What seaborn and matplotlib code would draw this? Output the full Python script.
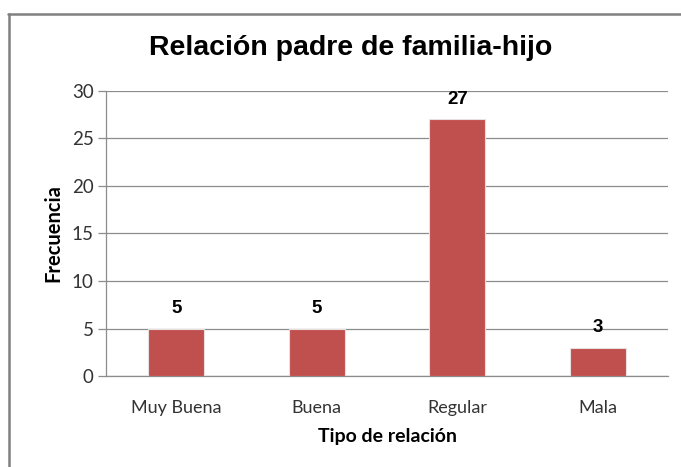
import matplotlib
matplotlib.use("Agg")
import matplotlib.pyplot as plt
import seaborn as sns
import pandas as pd
from matplotlib.lines import Line2D

# datos
categorias = ["Muy Buena", "Buena", "Regular", "Mala"]
frecuencias = [5, 5, 27, 3]
yticks = [0, 5, 10, 15, 20, 25, 30]

df = pd.DataFrame({"Tipo": categorias, "Frecuencia": frecuencias})

sns.set_style("white")
plt.rcParams["font.family"] = ["Lato", "DejaVu Sans"]

fig = plt.figure(figsize=(6.81, 4.67), dpi=100)
ax = fig.add_axes([106 / 681, 1 - 376 / 467, 562 / 681, 285 / 467])

sns.barplot(data=df, x="Tipo", y="Frecuencia", color="#C0504D", width=0.4,
            edgecolor="#e8e0e0", linewidth=0.8, ax=ax, zorder=3, saturation=1)

ax.set_ylim(0, 30)
ax.set_xlim(-0.5, 3.5)
ax.set_yticks(yticks)
ax.yaxis.grid(True, color="#8c8c8c", linewidth=0.9, zorder=0)
ax.set_axisbelow(True)

for s in ["top", "right"]:
    ax.spines[s].set_visible(False)
for s in ["left", "bottom"]:
    ax.spines[s].set_color("#8c8c8c")
    ax.spines[s].set_linewidth(0.9)

# ticks de categorias entre barras
ax.set_xticks([-0.5, 0.5, 1.5, 2.5, 3.5], minor=True)
ax.tick_params(axis="x", which="minor", length=6, color="#8c8c8c", width=0.9)
ax.tick_params(axis="x", which="major", length=0, labelsize=13, colors="#333333", pad=17)
ax.tick_params(axis="y", length=6, color="#8c8c8c", width=0.9, labelsize=13.5,
               colors="#333333", direction="out", left=True, pad=3)

for i, v in enumerate(frecuencias):
    ax.text(i, v + 1.2, str(v), ha="center", va="bottom", fontsize=13.5,
            fontweight="bold", family="Liberation Sans", color="black")

ax.set_xlabel("Tipo de relación", fontsize=14, fontweight="bold", labelpad=9, color="black")
ax.set_ylabel("Frecuencia", fontsize=14.5, fontweight="bold", labelpad=6, color="black")

fig.text(351 / 681, 1 - 48 / 467, "Relación padre de familia-hijo", ha="center", va="center",
         fontsize=20.5, fontweight="bold", family="Liberation Sans", color="black")

# marco del grafico
fig.add_artist(Line2D([8 / 681, 1], [1 - 14 / 467, 1 - 14 / 467], color="#808080", linewidth=1.8))
fig.add_artist(Line2D([9 / 681, 9 / 681], [0, 1 - 14 / 467], color="#808080", linewidth=1.8))

fig.savefig("out.png", dpi=100)
